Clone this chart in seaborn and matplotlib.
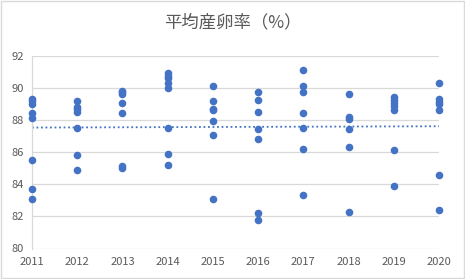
import numpy as np
import pandas as pd
import matplotlib
matplotlib.use("Agg")
import matplotlib.pyplot as plt
import seaborn as sns

years = [2011, 2012, 2013, 2014, 2015, 2016, 2017, 2018, 2019, 2020]
v2011 = [89.3, 89.2, 89.0, 88.4, 88.1, 85.5, 83.7, 83.1]
v2012 = [89.2, 88.8, 88.65, 88.5, 87.5, 85.8, 84.9]
v2013 = [89.8, 89.7, 89.6, 89.05, 88.4, 85.1, 85.0]
v2014 = [90.9, 90.75, 90.6, 90.3, 90.0, 87.5, 85.9, 85.2]
v2015 = [90.1, 89.2, 88.7, 88.6, 87.9, 87.05, 83.1]
v2016 = [89.7, 89.25, 88.5, 87.4, 86.8, 82.2, 81.8]
v2017 = [91.1, 90.1, 89.7, 88.4, 87.5, 86.2, 83.3]
v2018 = [89.6, 88.2, 88.05, 87.4, 86.3, 82.3]
v2019 = [89.4, 89.25, 89.05, 88.85, 88.6, 86.1, 83.9]
v2020 = [90.3, 89.3, 89.1, 89.0, 88.6, 84.6, 82.4]
trend_years = [2011, 2020]
trend_values = [87.52, 87.6]
yticks = [80, 82, 84, 86, 88, 90, 92]
title = "平均産卵率（%）"

series = [v2011, v2012, v2013, v2014, v2015, v2016, v2017, v2018, v2019, v2020]
rows = []
for yr, vals in zip(years, series):
    for v in vals:
        rows.append({"year": yr, "rate": v})
df = pd.DataFrame(rows)
trend_df = pd.DataFrame({"year": trend_years, "rate": trend_values})

sns.set_theme(style="white")
plt.rcParams['font.family'] = ['Noto Sans CJK JP', 'DejaVu Sans']

blue = "#4472C4"
fig = plt.figure(figsize=(4.65, 2.79), dpi=100)
ax = fig.add_axes([32/465, 1-248.5/279, (439-32)/465, (248.5-55.5)/279])

for yt in yticks:
    ax.axhline(yt, color="#D9D9D9", lw=0.9, zorder=0)

sns.scatterplot(data=df, x="year", y="rate", ax=ax, color=blue, s=30,
                edgecolor=blue, linewidth=0, zorder=3, clip_on=False, legend=False)

sns.lineplot(data=trend_df, x="year", y="rate", ax=ax, color=blue, lw=1.3,
             linestyle=(0, (1, 1.5)), zorder=2, legend=False)

ax.set_xlim(years[0], years[-1])
ax.set_ylim(80, 92)
ax.set_xticks(years)
ax.set_xticklabels([str(y) for y in years])
ax.set_yticks(yticks)
ax.set_yticklabels([str(t) for t in yticks])
ax.tick_params(axis="both", labelsize=8, colors="#595959", length=0, pad=6)
ax.set_xlabel("")
ax.set_ylabel("")
for side in ["top", "right", "bottom"]:
    ax.spines[side].set_visible(False)
ax.spines["left"].set_color("#D9D9D9")
ax.spines["left"].set_linewidth(0.9)

fig.text(0.5, 1-22/279, title, ha="center", va="center", fontsize=12.5, color="#595959")

border = plt.Rectangle((0.002, 0.004), 0.996, 0.992, transform=fig.transFigure,
                       fill=False, edgecolor="#D9D9D9", lw=1.0)
fig.patches.append(border)

fig.savefig("out.png", dpi=100)
